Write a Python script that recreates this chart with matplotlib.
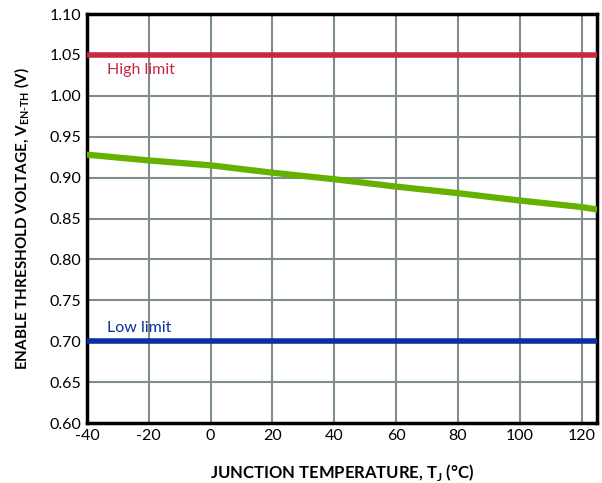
import matplotlib.pyplot as plt

plt.rcParams['font.family'] = ['Lato', 'DejaVu Sans']
plt.rcParams['mathtext.fontset'] = 'custom'
plt.rcParams['mathtext.rm'] = 'Lato'
plt.rcParams['mathtext.bf'] = 'Lato:bold'
plt.rcParams['axes.unicode_minus'] = False

temp = [-40, -20, 0, 20, 40, 60, 80, 100, 120, 125]
v_en_th = [0.928, 0.921, 0.915, 0.906, 0.898, 0.889, 0.881, 0.872, 0.864, 0.861]
high_limit = 1.05
low_limit = 0.70

fig = plt.figure(figsize=(6.02, 4.83), dpi=100)
ax = fig.add_axes([87 / 602, 1 - 423 / 483, 510 / 602, 409 / 483])

ax.plot([-40, 125], [high_limit, high_limit], color='#c8283f', lw=4, solid_capstyle='butt', zorder=3)
ax.plot([-40, 125], [low_limit, low_limit], color='#0b2ea0', lw=4, solid_capstyle='butt', zorder=3)
ax.plot(temp, v_en_th, color='#66b000', lw=4.5, zorder=3)

ax.text(-33.5, 1.040, 'High limit', color='#c8283f', fontsize=11.5, va='top')
ax.text(-33.5, 0.707, 'Low limit', color='#0b2ea0', fontsize=11.5, va='bottom')

ax.set_xlim(-40, 125)
ax.set_ylim(0.60, 1.10)
ax.set_xticks(range(-40, 121, 20))
ax.set_yticks([0.60 + 0.05 * i for i in range(11)])
ax.set_yticklabels([f'{0.60 + 0.05 * i:.2f}' for i in range(11)])
ax.grid(True, color='#7f8c8d', lw=1.5)
ax.set_axisbelow(True)
ax.tick_params(length=0, labelsize=11.5, pad=4)
for s in ax.spines.values():
    s.set_linewidth(2.5)
    s.set_color('black')

ax.set_xlabel(r'JUNCTION TEMPERATURE, T$_{\mathbf{J}}$ (°C)', fontsize=12, fontweight='bold', labelpad=14)
ax.set_ylabel(r'ENABLE THRESHOLD VOLTAGE, V$_{\mathbf{EN\text{-}TH}}$ (V)', fontsize=11, fontweight='bold', labelpad=13)

fig.savefig('out.png', dpi=100)
